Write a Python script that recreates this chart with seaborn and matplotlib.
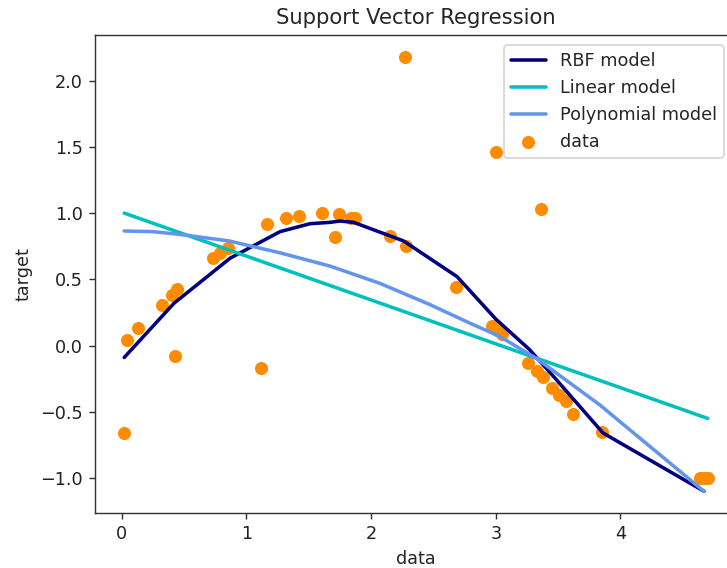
import numpy as np
import pandas as pd
import matplotlib
matplotlib.use("Agg")
import matplotlib.pyplot as plt
import seaborn as sns

data_x = [0.02, 0.04, 0.13, 0.325, 0.405, 0.43, 0.44, 0.73, 0.79, 0.85,
          1.12, 1.165, 1.32, 1.42, 1.61, 1.71, 1.744, 1.84, 1.87, 2.15,
          2.27, 2.28, 2.68, 2.97, 3.00, 3.01, 3.05, 3.26, 3.33, 3.36,
          3.38, 3.45, 3.51, 3.56, 3.62, 3.85, 4.64, 4.67, 4.70]
data_y = [-0.66, 0.04, 0.13, 0.31, 0.385, -0.08, 0.43, 0.66, 0.70, 0.74,
          -0.17, 0.92, 0.96, 0.98, 1.00, 0.82, 0.99, 0.96, 0.96, 0.83,
          2.18, 0.75, 0.44, 0.15, 1.46, 0.12, 0.09, -0.13, -0.19, 1.03,
          -0.24, -0.32, -0.37, -0.42, -0.52, -0.65, -1.00, -1.00, -1.00]

# Model predictions
rbf_x = [0.02, 0.42, 0.87, 1.27, 1.51, 1.67, 1.75, 1.86, 2.26, 2.69, 3.00, 3.27, 3.46, 3.86, 4.67]
rbf_y = [-0.09, 0.32, 0.66, 0.86, 0.92, 0.93, 0.94, 0.93, 0.79, 0.52, 0.20, -0.03, -0.23, -0.66, -1.10]

lin_x = [0.02, 4.70]
lin_y = [1.00, -0.55]

poly_x = [0.02, 0.25, 0.46, 0.86, 1.27, 1.67, 2.07, 2.47, 2.79, 3.03, 3.33, 3.83, 4.67]
poly_y = [0.865, 0.86, 0.84, 0.79, 0.70, 0.60, 0.47, 0.31, 0.17, 0.07, -0.10, -0.445, -1.10]

sns.set_style("ticks")
plt.rcParams['font.family'] = ['DejaVu Sans']

dpi = 127
fig = plt.figure(figsize=(727 / dpi, 568 / dpi), dpi=dpi)
ax = fig.add_axes([0.1307, 0.0968, 0.883, 0.8415])

lw = 2
sns.lineplot(x=rbf_x, y=rbf_y, color='navy', lw=lw, label='RBF model', sort=False, ax=ax)
sns.lineplot(x=lin_x, y=lin_y, color='c', lw=lw, label='Linear model', sort=False, ax=ax)
sns.lineplot(x=poly_x, y=poly_y, color='cornflowerblue', lw=lw, label='Polynomial model', sort=False, ax=ax)
sns.scatterplot(x=data_x, y=data_y, color='darkorange', s=55, linewidth=0, label='data', zorder=1, ax=ax)

ax.set_yticks([-1.0, -0.5, 0.0, 0.5, 1.0, 1.5, 2.0])
ax.set_xticks([0, 1, 2, 3, 4])
ax.set_xlabel('data')
ax.set_ylabel('target')
ax.set_title('Support Vector Regression')
for s in ax.spines.values():
    s.set_color('#333333')
ax.tick_params(colors='#333333', labelcolor='#222222')
ax.legend(loc='upper right', bbox_to_anchor=(724 / 727, 1 - 45 / 568),
          bbox_transform=fig.transFigure, borderaxespad=0)

fig.savefig('out.png', dpi=dpi)
